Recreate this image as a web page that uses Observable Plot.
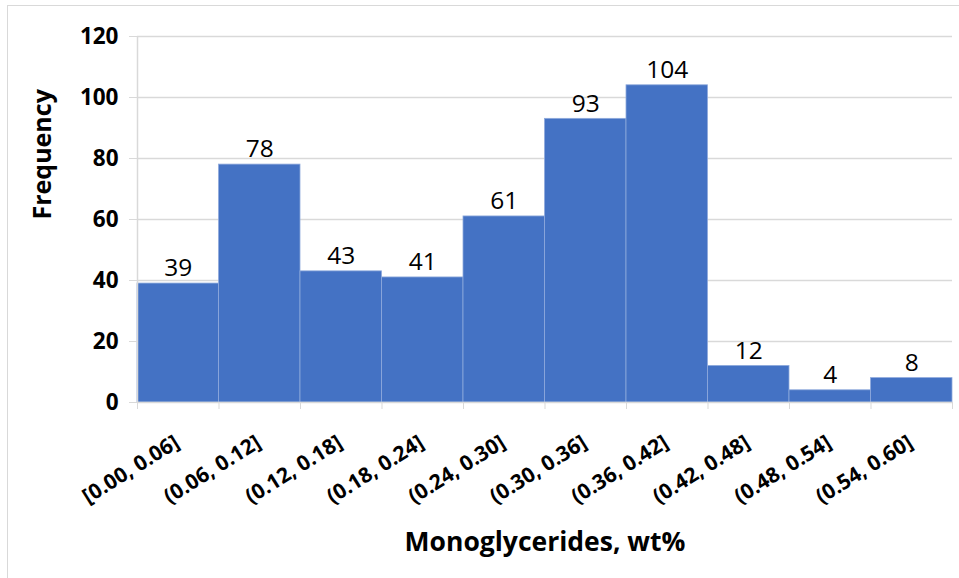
<!DOCTYPE html>
<html>
<head>
<meta charset="utf-8">
<script src="https://cdn.jsdelivr.net/npm/d3@7"></script>
<script src="https://cdn.jsdelivr.net/npm/@observablehq/plot@0.6"></script>
<style>
  html, body { margin: 0; padding: 0; background: #fff; }
  #wrap { position: relative; width: 959px; height: 578px; overflow: hidden; }
  #border { position: absolute; left: 7px; top: 5px; right: -5px; bottom: -5px; border: 1.5px solid #d9d9d9; pointer-events: none; }
</style>
</head>
<body>
<div id="wrap"><div id="border"></div></div>
<script>
const binLabels = ["[0.00, 0.06]", "(0.06, 0.12]", "(0.12, 0.18]", "(0.18, 0.24]", "(0.24, 0.30]", "(0.30, 0.36]", "(0.36, 0.42]", "(0.42, 0.48]", "(0.48, 0.54]", "(0.54, 0.60]"];
const binStarts = [0.00, 0.06, 0.12, 0.18, 0.24, 0.30, 0.36, 0.42, 0.48, 0.54];
const binEnds = [0.06, 0.12, 0.18, 0.24, 0.30, 0.36, 0.42, 0.48, 0.54, 0.60];
const frequencies = [39, 78, 43, 41, 61, 93, 104, 12, 4, 8];
const yTicks = [0, 20, 40, 60, 80, 100, 120];
const xTitle = "Monoglycerides, wt%";
const yTitle = "Frequency";

const data = binLabels.map((label, i) => ({
  label, x1: binStarts[i], x2: binEnds[i], mid: (binStarts[i] + binEnds[i]) / 2, count: frequencies[i]
}));
const edges = [binStarts[0], ...binEnds];

const font = "'Open Sans', 'Noto Sans', sans-serif";

const chart = Plot.plot({
  width: 959,
  height: 578,
  marginLeft: 137,
  marginRight: 7,
  marginTop: 36,
  marginBottom: 176,
  style: { fontFamily: font, background: "transparent", overflow: "visible" },
  x: { domain: [0, 0.6] },
  y: { domain: [0, 120] },
  marks: [
    Plot.gridY(yTicks.filter(d => d > 0), { stroke: "#d9d9d9", strokeOpacity: 1, strokeWidth: 1.5 }),
    Plot.rectY(data, { x1: "x1", x2: "x2", y: "count", fill: "#4472c4", stroke: "#8faadc", strokeWidth: 0.8 }),
    Plot.ruleY([0], { stroke: "#d9d9d9", strokeWidth: 1.5 }),
    Plot.ruleX([0], { stroke: "#d9d9d9", strokeWidth: 1.5 }),
    Plot.axisY({ ticks: yTicks, tickSize: 8, tickPadding: 11, stroke: "#d9d9d9", fontSize: 22.5, fontWeight: "bold", fill: "#000", label: null }),
    Plot.axisX({ ticks: edges, tickSize: 7, stroke: "#d9d9d9", tickFormat: () => "", label: null }),
    Plot.text(data, { x: "mid", y: 0, text: "label", rotate: -32, textAnchor: "end", lineAnchor: "middle", dy: 38, dx: -1, fontSize: 21, fontWeight: "bold", fill: "#000" }),
    Plot.text(data, { x: "mid", y: "count", text: d => String(d.count), dy: -15, fontSize: 24.5, fill: "#000" }),
    Plot.text([xTitle], { frameAnchor: "bottom", dy: 148, fontSize: 26.5, fontWeight: "bold", fill: "#000" }),
    Plot.text([yTitle], { frameAnchor: "left", dx: -95, rotate: -90, fontSize: 25, fontWeight: "bold", fill: "#000" })
  ]
});
document.getElementById("wrap").prepend(chart);
</script>
</body>
</html>
